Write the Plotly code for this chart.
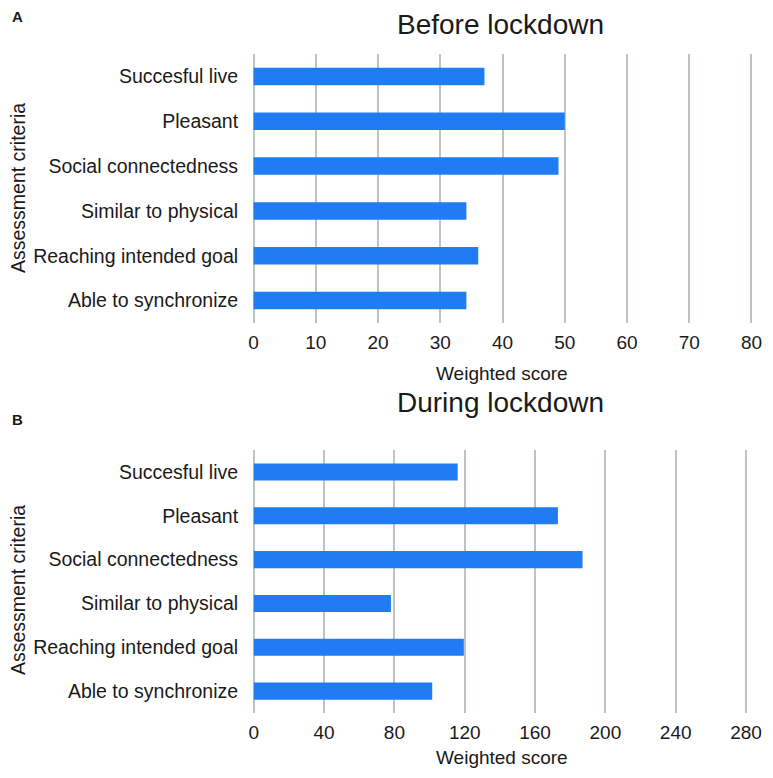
from plotly import graph_objects as go
from plotly.subplots import make_subplots

criteria = [
    'Succesful live',
    'Pleasant',
    'Social connectedness',
    'Similar to physical',
    'Reaching intended goal',
    'Able to synchronize',
]
before_scores = [37.1, 50, 49, 34.2, 36.1, 34.2]
during_scores = [116, 173, 187, 78, 119.5, 101.5]

before_ticks = [0, 10, 20, 30, 40, 50, 60, 70, 80]
during_ticks = [0, 40, 80, 120, 160, 200, 240, 280]

bar_color = '#1f7cf2'
grid_color = '#b9c6c2'
text_color = '#1a1a1a'
font_family = 'Liberation Sans, Arial, Helvetica, sans-serif'

fig = make_subplots(rows=2, cols=1)

fig.add_trace(go.Bar(
    x=before_scores, y=criteria, orientation='h',
    marker=dict(color=bar_color, line=dict(width=0)),
    showlegend=False), row=1, col=1)
fig.add_trace(go.Bar(
    x=during_scores, y=criteria, orientation='h',
    marker=dict(color=bar_color, line=dict(width=0)),
    showlegend=False), row=2, col=1)

xaxis_common = dict(
    showgrid=True, gridcolor=grid_color, gridwidth=2,
    zeroline=False, showline=False, automargin=False,
    ticks='outside', ticklen=2, tickcolor='rgba(0,0,0,0)',
    tickfont=dict(size=19, color=text_color),
)
yaxis_common = dict(
    type='category', categoryorder='array', categoryarray=criteria,
    autorange='reversed', showgrid=False, zeroline=False, showline=False,
    automargin=False,
    ticks='outside', ticklen=9, tickcolor='rgba(0,0,0,0)',
    tickfont=dict(size=19.5, color=text_color),
)

# page body has an 8px margin; keep the figure inside the visible window
fig.update_layout(
    width=757, height=762,
    paper_bgcolor='white', plot_bgcolor='white',
    font=dict(family=font_family, color=text_color),
    margin=dict(l=244, r=12, t=46, b=57, autoexpand=False),
    bargap=0.61,
    xaxis=dict(xaxis_common, domain=[0, 1], range=[-0.25, 80.25],
               tickvals=before_ticks),
    xaxis2=dict(xaxis_common, domain=[0, 0.9896], range=[-1, 281],
                tickvals=during_ticks),
    yaxis=dict(yaxis_common, domain=[0.5918, 1]),
    yaxis2=dict(yaxis_common, domain=[0, 0.399]),
)

def ypaper(py):
    # page pixel row -> paper coordinate
    return (713 - py) / 659

def xpaper(px):
    return (px - 252) / 501

notes = [
    ('<b>A</b>', 10, 16, 15, 'left'),
    ('<b>B</b>', 10, 419, 15, 'left'),
    ('Before lockdown', 500, 24, 28, 'center'),
    ('During lockdown', 500, 402, 28, 'center'),
    ('Weighted score', 502, 373, 19, 'center'),
    ('Weighted score', 502, 757, 19, 'center'),
]
for text, px, py, size, anchor in notes:
    fig.add_annotation(
        text=text, xref='paper', yref='paper',
        x=xpaper(px), y=ypaper(py), xanchor=anchor, yanchor='middle',
        showarrow=False, font=dict(size=size, color=text_color))

for py in [188, 590]:
    fig.add_annotation(
        text='Assessment criteria', xref='paper', yref='paper',
        x=xpaper(18), y=ypaper(py), xanchor='center', yanchor='middle',
        textangle=-90, showarrow=False,
        font=dict(size=19.5, color=text_color))

fig.write_html("out.html")
